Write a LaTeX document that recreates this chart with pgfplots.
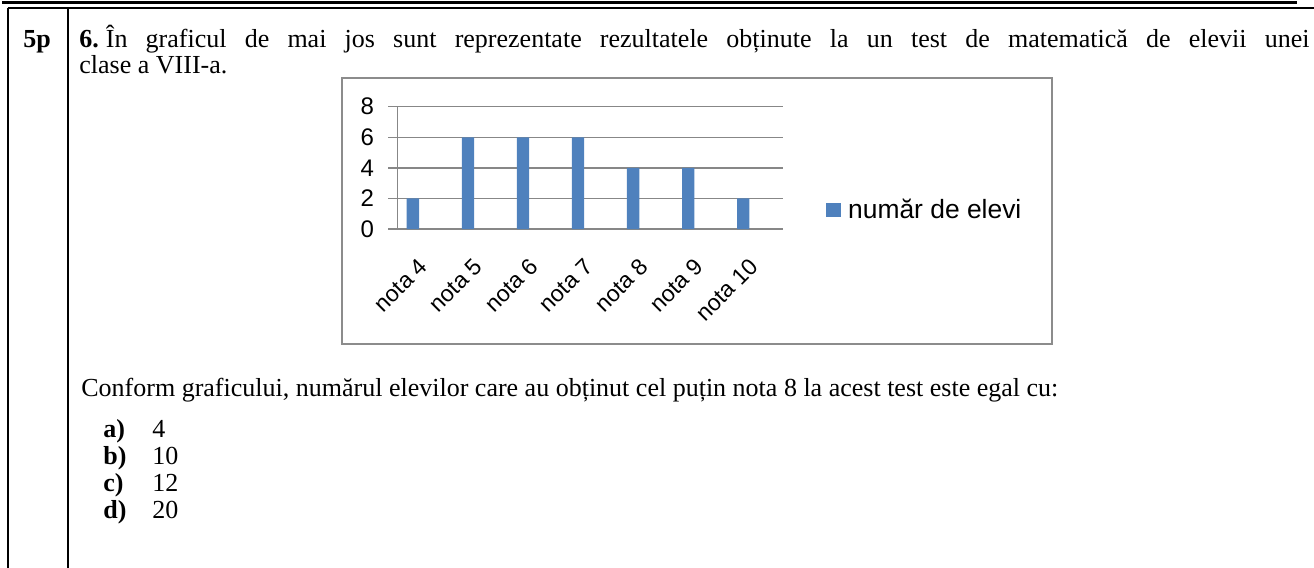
\documentclass[border=0pt]{standalone}
\usepackage{fontspec}
\setmainfont{Liberation Serif}
\newfontfamily\arialf{Liberation Sans}
\usepackage{pgfplots}
\pgfplotsset{compat=1.18}
\definecolor{barblue}{HTML}{4F81BD}
\definecolor{gridgray}{HTML}{878787}
\definecolor{boxgray}{HTML}{8C8C8C}
\newcommand{\tf}{\fontsize{13}{15.6}\selectfont}
\newcommand{\yf}{\arialf\fontsize{12}{14.4}\selectfont}
\newcommand{\xf}{\arialf\fontsize{11.5}{13.8}\selectfont}
\begin{document}
\begin{tikzpicture}
\begin{scope}[x=0.5pt,y=-0.5pt]
\path[use as bounding box] (0,0) rectangle (1314,568);
\draw[line width=1.6pt] (2,2.5) -- (1297,2.5);
\draw[line width=1pt] (7.5,8) -- (1314,8);
\draw[line width=1pt] (7.5,8) -- (7.5,568);
\draw[line width=1pt] (68,8) -- (68,568);
\draw[boxgray, line width=1pt] (342,77.5) rectangle (1052,344);
\node[anchor=base west, inner sep=0] at (23,47) {\tf\textbf{5p}};
\node[anchor=base west, inner sep=0] at (79,47) {\tf\makebox[615pt][s]{\textbf{6.}\hspace{3.5pt}În graficul de mai jos sunt reprezentate rezultatele obținute la un test de matematică de elevii unei}};
\node[anchor=base west, inner sep=0] at (79,73) {\tf clase a VIII-a.};
\node[anchor=base west, inner sep=0] at (81,396) {\tf Conform graficului, numărul elevilor care au obținut cel puțin nota 8 la acest test este egal cu:};
\node[anchor=base west, inner sep=0] at (103,437) {\tf\textbf{a)}};
\node[anchor=base west, inner sep=0] at (152,437) {\tf 4};
\node[anchor=base west, inner sep=0] at (103,464) {\tf\textbf{b)}};
\node[anchor=base west, inner sep=0] at (152,464) {\tf 10};
\node[anchor=base west, inner sep=0] at (103,491) {\tf\textbf{c)}};
\node[anchor=base west, inner sep=0] at (152,491) {\tf 12};
\node[anchor=base west, inner sep=0] at (103,518) {\tf\textbf{d)}};
\node[anchor=base west, inner sep=0] at (152,518) {\tf 20};
\end{scope}
\begin{axis}[
  at={(198.65pt,-114.5pt)}, anchor=south west,
  scale only axis, width=192.7pt, height=61.15pt,
  xmin=-0.5, xmax=6.5, ymin=0, ymax=8,
  axis x line*=bottom, axis y line*=left,
  axis line style={gridgray, line width=0.75pt},
  /pgf/number format/assume math mode=true,
  ytick={0,2,4,6,8}, ymajorgrids,
  grid style={gridgray, line width=0.75pt},
  major tick length=4.5pt, tick align=outside,
  tick style={gridgray, line width=0.75pt},
  yticklabel style={font=\yf, inner sep=0pt, xshift=-7pt},
  xtick={0,1,2,3,4,5,6},
  xticklabels={nota 4,nota 5,nota 6,nota 7,nota 8,nota 9,nota 10},
  xtick style={draw=none},
  xticklabel style={font=\xf, rotate=45, anchor=north east, inner sep=0pt, xshift=-9pt, yshift=-4pt},
  extra x ticks={-0.5,0.5,1.5,2.5,3.5,4.5,5.5,6.5},
  extra x tick labels={},
  extra x tick style={grid=none, major tick length=3.5pt, tick style={draw=gridgray, line width=0.75pt}},
  legend style={at={(1.1124,0.155)}, anchor=west, draw=none, fill=none, inner sep=0pt, font=\arialf\fontsize{13.2}{15.8}\selectfont, nodes={inner sep=0pt}, /tikz/every odd column/.append style={column sep=3.6pt}},
  legend image code/.code={\fill[barblue] (0pt,-3.6pt) rectangle (7.3pt,3.6pt);},
]
\addplot[ybar, bar width=6.15pt, bar shift=-5.97pt, fill=barblue, draw=none] coordinates {(0,2) (1,6) (2,6) (3,6) (4,4) (5,4) (6,2)};
\addlegendentry{număr de elevi}
\end{axis}
\end{tikzpicture}
\end{document}
